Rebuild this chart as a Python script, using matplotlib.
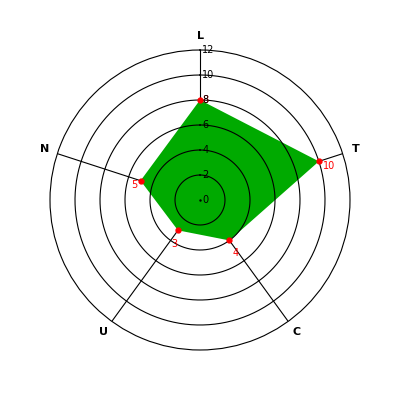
import numpy as np
import matplotlib
matplotlib.use('Agg')
import matplotlib.pyplot as plt

# data
axis_labels = ['L', 'T', 'C', 'U', 'N']
values = [8, 10, 4, 3, 5]
rticks = [0, 2, 4, 6, 8, 10, 12]

n = len(axis_labels)
theta = np.arange(n) * 2 * np.pi / n

fig = plt.figure(figsize=(4, 4), dpi=100)
ax = fig.add_axes([0.125, 0.125, 0.75, 0.75], projection='polar')
ax.set_theta_offset(np.pi / 2)
ax.set_theta_direction(-1)
ax.set_ylim(0, 12)

# grid: spokes under the fill, circles over it
ax.grid(False)
ax.spines['polar'].set_color('black')
ax.spines['polar'].set_linewidth(0.8)
for t in theta:
    ax.plot([t, t], [0, 12], color='black', lw=0.8, zorder=1)

# polygon
tt = np.append(theta, theta[0])
vv = np.append(values, values[0])
ax.fill(tt, vv, color='#00aa00', zorder=2, lw=0)

ring = np.linspace(0, 2 * np.pi, 400)
for r in rticks[1:-1]:
    ax.plot(ring, np.full_like(ring, r), color='black', lw=0.8, zorder=3)
ax.plot([0], [0], marker='.', color='black', ms=1.5, zorder=3)

ax.plot(theta, values, 'o', color='red', ms=3.5, zorder=4)

# value labels
offs = [(2, 0, 'left', 'center'), (3, -3, 'left', 'center'),
        (2, -9, 'left', 'center'), (-5, -10, 'left', 'center'),
        (-2, -3, 'right', 'center')]
for t, v, (dx, dy, ha, va) in zip(theta, values, offs):
    ax.annotate(str(v), (t, v), xytext=(dx, dy), textcoords='offset points',
                ha=ha, va=va, fontsize=7, color='red', zorder=4)

# radial tick labels along L axis
ax.set_yticks([])
ax.set_xticks([])
for r in rticks:
    ax.annotate(str(r), (0, r), xytext=(1.5, 0), textcoords='offset points',
                ha='left', va='center', fontsize=7, zorder=5)

# axis names
for t, lab in zip(theta, axis_labels):
    ax.text(t, 13.1, lab, ha='center', va='center', fontsize=8,
            fontweight='bold')

fig.savefig('out.png', dpi=100)
